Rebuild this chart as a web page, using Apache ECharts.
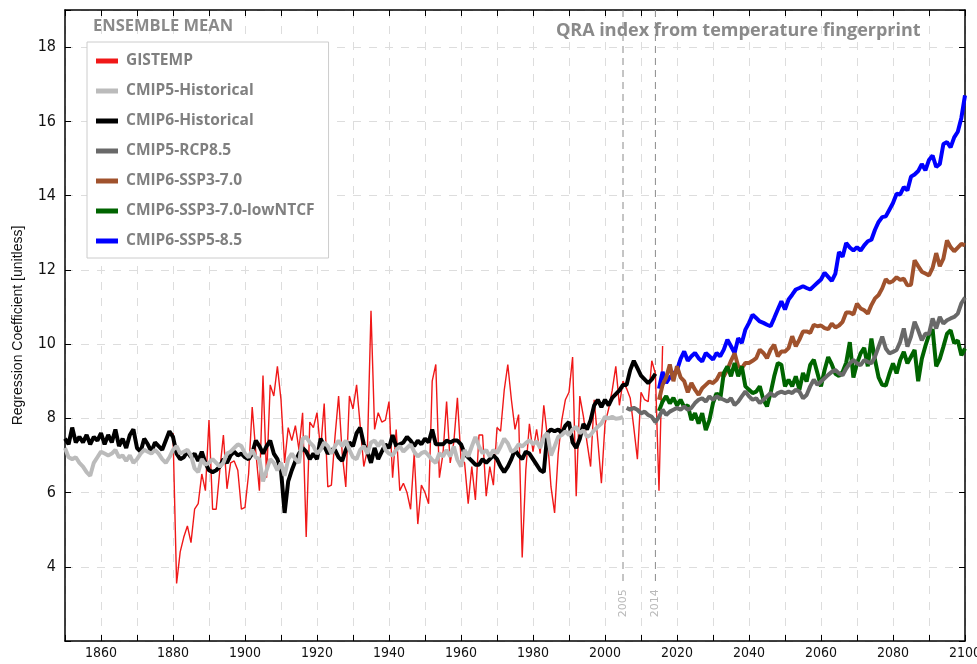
<!DOCTYPE html>
<html>
<head>
<meta charset="utf-8">
<script src="https://cdn.jsdelivr.net/npm/echarts@6/dist/echarts.min.js"></script>
<style>
html,body{margin:0;padding:0;background:#fff;overflow:hidden;}
#chart{width:977px;height:664px;}
</style>
</head>
<body>
<div id="chart"></div>
<script>
// ---- DATA ----
const gistempStart = 1880;
const gistemp = [7.6,3.55,4.4,4.8,5.1,4.65,5.55,5.7,6.5,6.05,
7.95,5.55,5.55,6.6,7.55,6.1,6.8,6.85,6.6,5.55,
5.6,6.5,8.3,7.1,6.05,9.15,6.4,8.9,8.6,9.4,
8.5,6.8,7.75,7.4,7.8,7.15,8.15,4.8,7.9,7.75,
8.15,7.15,8.4,6.15,6.2,7.5,8.6,7.05,6.15,8.6,
8.25,8.9,7.8,6.7,7.15,10.9,7.7,8.15,7.9,7.95,
8.45,6.4,7.7,6.05,6.25,6.0,5.55,7.05,5.15,6.2,
6.0,5.7,9.0,9.45,6.4,7.05,8.45,6.8,7.35,8.55,
6.9,6.8,5.7,6.7,5.8,7.55,7.55,5.9,6.7,6.2,
7.75,7.65,8.75,9.45,8.5,7.7,8.1,4.25,6.6,7.85,
7.1,7.7,7.05,8.35,7.5,6.15,5.45,7.05,7.95,8.5,
8.7,9.65,5.9,8.6,8.05,7.35,6.7,8.5,7.4,6.25,
7.85,8.25,8.75,9.4,8.35,9.0,8.8,8.55,7.75,6.9,
8.7,8.5,8.45,9.55,9.2,6.05,9.95];

const cmip5HistStart = 1850;
const cmip5Hist = [7.2,6.95,6.9,6.95,6.8,6.7,6.55,6.45,6.8,6.95,
7.1,7.05,7.0,7.05,7.15,6.95,7.0,6.85,7.0,6.8,
6.9,7.05,7.15,7.1,7.05,7.15,7.05,6.9,6.8,6.95,
7.15,7.25,7.05,7.1,7.15,7.0,6.65,6.55,6.9,6.75,
6.8,6.9,6.8,6.7,6.8,7.05,7.1,7.2,7.3,7.25,
7.05,6.95,7.15,6.95,6.9,6.3,6.6,6.9,6.8,6.6,
6.8,6.45,6.9,7.05,6.9,6.8,7.45,7.5,7.35,7.25,
7.05,7.15,7.35,7.25,7.05,7.25,7.4,7.25,7.4,7.15,
6.95,6.9,7.15,7.25,7.05,7.35,7.4,7.25,7.4,7.15,
7.05,7.0,7.15,7.25,7.1,7.2,7.3,7.1,6.97,7.06,
7.1,7.0,6.88,6.8,7.06,6.97,7.15,6.97,7.24,6.88,
6.7,7.15,6.97,7.24,7.5,7.24,7.06,7.15,6.97,7.15,
7.06,7.24,7.45,7.33,7.1,7.15,7.3,7.24,7.33,7.41,
7.3,7.38,7.2,7.5,7.6,7.0,7.24,7.5,7.55,7.65,
7.55,7.7,7.77,7.6,7.68,7.5,7.55,7.68,7.77,7.86,
8.04,8.0,8.04,7.99,8.0,8.04];

const cmip6HistStart = 1850;
const cmip6Hist = [7.45,7.3,7.75,7.35,7.5,7.35,7.55,7.3,7.5,7.4,
7.6,7.3,7.55,7.35,7.7,7.25,7.45,7.2,7.55,7.7,
7.2,7.1,7.45,7.3,7.1,7.35,7.25,7.15,7.4,7.65,
7.5,7.05,6.9,6.95,7.1,6.95,7.05,6.85,7.1,6.8,
6.6,6.55,6.6,6.7,6.9,6.8,7.0,7.1,7.0,7.05,
6.95,6.9,7.05,7.4,7.25,7.05,7.25,7.4,7.05,6.9,
6.6,5.45,6.3,6.6,6.85,7.05,7.2,7.1,6.9,7.05,
6.9,7.45,7.25,7.05,7.15,7.15,6.95,6.85,7.15,7.35,
7.25,7.6,7.75,7.3,7.1,6.8,7.2,6.9,7.1,7.3,
7.2,7.55,7.25,7.3,7.35,7.5,7.4,7.25,7.4,7.3,
7.45,7.35,7.7,7.3,7.3,7.3,7.4,7.35,7.4,7.4,
7.3,7.05,6.95,6.85,6.75,6.75,6.9,6.8,6.9,7.0,
6.9,6.7,6.55,6.7,6.9,7.15,7.0,6.9,7.1,7.05,
6.9,6.75,6.6,6.55,7.6,7.7,7.65,7.7,7.6,7.8,
7.9,7.35,7.2,7.45,7.85,7.7,7.95,8.35,8.5,8.3,
8.5,8.35,8.55,8.65,8.75,8.9,8.9,9.3,9.55,9.35,
9.15,9.05,8.95,9.05,9.2];

const rcp85Start = 2006;
const rcp85 = [8.28,8.23,8.28,8.23,8.13,8.18,8.09,8.04,7.9,8.04,
8.23,8.09,8.18,8.23,8.28,8.23,8.32,8.23,8.28,8.41,
8.5,8.54,8.45,8.59,8.5,8.59,8.54,8.5,8.45,8.54,
8.36,8.45,8.59,8.72,8.59,8.5,8.54,8.41,8.5,8.59,
8.68,8.59,8.68,8.72,8.68,8.72,8.68,8.77,8.72,8.54,
8.63,8.86,9.04,8.9,8.99,9.08,9.17,9.25,9.3,9.21,
9.16,9.34,9.48,9.57,9.48,9.43,9.57,9.52,9.48,9.66,
9.93,10.2,9.88,9.75,9.79,9.84,10.06,10.42,9.93,10.2,
10.6,10.37,10.1,10.28,10.28,10.69,10.42,10.73,10.55,10.64,
10.69,10.73,10.82,11.1,11.25];

const sspStart = 2015;
const ssp370 = [8.5,8.9,9.1,9.45,9.0,9.4,9.1,9.0,8.7,8.95,
8.77,8.63,8.81,8.9,8.99,8.95,9.04,9.22,9.13,9.31,
9.55,9.75,9.4,9.35,9.49,9.49,9.55,9.62,9.85,9.76,
9.62,9.85,9.98,9.67,9.8,9.8,9.89,10.21,9.94,10.12,
10.34,10.34,10.3,10.52,10.48,10.5,10.43,10.4,10.55,10.45,
10.5,10.6,10.85,10.85,10.8,11.09,10.96,10.91,10.82,11.05,
11.23,11.32,11.5,11.75,11.65,11.7,11.8,11.73,11.76,11.58,
11.6,12.26,12.1,11.95,11.9,11.85,12.05,12.45,12.1,12.3,
12.79,12.61,12.5,12.6,12.7,12.66];

const ssp370low = [8.2,8.45,8.6,8.4,8.55,8.35,8.5,8.3,8.35,7.95,
8.14,7.86,8.14,7.68,7.95,8.41,8.68,8.5,9.22,9.4,
9.13,9.49,9.13,9.4,8.86,8.77,8.68,8.72,8.86,8.5,
8.32,8.68,9.13,9.49,9.44,8.86,9.04,8.86,9.13,8.77,
9.22,8.99,9.44,9.58,9.22,8.86,9.3,9.65,9.45,9.2,
9.14,9.25,9.5,10.05,9.1,9.48,9.75,9.9,9.4,10.15,
9.57,9.1,8.9,8.88,9.2,9.48,9.21,9.57,9.79,9.48,
9.66,9.84,9.0,9.6,9.95,10.25,10.4,9.4,9.6,9.93,
10.28,10.37,10.02,10.1,9.7,9.88];

const ssp585 = [8.8,9.25,8.95,9.1,9.2,9.3,9.6,9.8,9.55,9.67,
9.76,9.62,9.53,9.76,9.67,9.58,9.76,9.67,9.85,10.12,
9.94,9.76,10.16,10.03,10.39,10.57,10.79,10.7,10.61,10.57,
10.52,10.48,10.7,10.93,11.15,10.93,11.2,11.33,11.47,11.51,
11.56,11.51,11.47,11.56,11.65,11.74,11.92,11.81,11.7,11.9,
12.48,12.35,12.72,12.6,12.52,12.61,12.52,12.66,12.77,12.81,
13.08,13.29,13.42,13.44,13.62,13.8,14.05,14.03,14.23,14.14,
14.51,14.57,14.66,14.85,14.68,14.96,15.08,14.77,14.85,15.39,
15.44,15.3,15.57,15.72,16.1,16.7];

const markerYears = [2005, 2014];
const xTickLabels = [1860,1880,1900,1920,1940,1960,1980,2000,2020,2040,2060,2080,2100];
const yTickLabels = [4,6,8,10,12,14,16,18];

const legendNames = ['GISTEMP','CMIP5-Historical','CMIP6-Historical','CMIP5-RCP8.5','CMIP6-SSP3-7.0','CMIP6-SSP3-7.0-lowNTCF','CMIP6-SSP5-8.5'];

// ---- BUILD ----
function pairs(start, arr){ return arr.map((v,i)=>[start+i, v]); }

const tickFont = "'Liberation Sans Narrow','DejaVu Sans Condensed','Liberation Sans',sans-serif";
const boldFont = "'Open Sans','DejaVu Sans',sans-serif";

function lineSeries(name, data, color, width){
  return {name, type:'line', data, showSymbol:false, symbol:'none', silent:true,
    lineStyle:{color, width}, itemStyle:{color}, emphasis:{disabled:true}, animation:false};
}

const series = [
  lineSeries('GISTEMP', pairs(gistempStart, gistemp), '#f01818', 1.4),
  lineSeries('CMIP6-Historical', pairs(cmip6HistStart, cmip6Hist), '#000000', 4),
  lineSeries('CMIP5-Historical', pairs(cmip5HistStart, cmip5Hist), '#bbbbbb', 4),
  lineSeries('CMIP6-SSP5-8.5', pairs(sspStart, ssp585), '#0000ff', 4),
  lineSeries('CMIP6-SSP3-7.0', pairs(sspStart, ssp370), '#a0522d', 4),
  lineSeries('CMIP6-SSP3-7.0-lowNTCF', pairs(sspStart, ssp370low), '#006400', 4),
  lineSeries('CMIP5-RCP8.5', pairs(rcp85Start, rcp85), '#696969', 4)
];

markerYears.forEach(yr=>{
  series.push({type:'line', data:[[yr,19],[yr,3.5]], showSymbol:false, symbol:'none', silent:true,
    lineStyle:{color:'#8a8a8a', width:1, type:[7,5]}, z:1, animation:false});
  series.push({type:'scatter', data:[[yr,3.02]], symbol:'circle', symbolSize:2,
    itemStyle:{color:'rgba(255,255,255,0)'}, silent:true, animation:false, z:5,
    label:{show:true, position:'inside', rotate:90, formatter:String(yr), color:'#a8a8a8', fontSize:11,
      fontFamily:"'DejaVu Sans',sans-serif"}});
});

const axisLineStyle = {color:'#000', width:1.5};

const option = {
  animation:false,
  backgroundColor:'#fff',
  title:[
    {text:'ENSEMBLE MEAN', left:93, top:18, padding:0,
      textStyle:{fontSize:16.5, fontWeight:'bold', color:'#8a8a8a', fontFamily:boldFont}},
    {text:'QRA index from temperature fingerprint', left:556, top:22, padding:0,
      textStyle:{fontSize:18, fontWeight:'bold', color:'#8a8a8a', fontFamily:boldFont}}
  ],
  legend:{
    data:legendNames, orient:'vertical', left:87, top:42,
    padding:[11,14,9,9], itemGap:14, itemWidth:22, itemHeight:5, icon:'rect',
    selectedMode:false, borderColor:'#cccccc', borderWidth:1, backgroundColor:'#fff',
    textStyle:{fontSize:15.5, fontWeight:'bold', color:'#808080', fontFamily:boldFont, lineHeight:16, padding:[0,0,0,3]}
  },
  grid:{left:65, right:12, top:10, bottom:23, containLabel:false, outerBoundsMode:'none'},
  xAxis:[
    {type:'value', min:1850, max:2100, interval:10,
      axisLine:{lineStyle:axisLineStyle}, axisTick:{inside:true, length:6, lineStyle:{color:'#000'}},
      axisLabel:{margin:5, fontSize:14, color:'#111', fontFamily:tickFont,
        formatter:v=> xTickLabels.includes(v) ? String(v) : ''},
      splitLine:{show:true, lineStyle:{type:[8,8], color:'#dddddd', width:1}}},
    {type:'value', position:'top', min:1850, max:2100, interval:10,
      axisLine:{lineStyle:axisLineStyle}, axisTick:{inside:true, length:6, lineStyle:{color:'#000'}},
      axisLabel:{show:false}, splitLine:{show:false}}
  ],
  yAxis:[
    {type:'value', min:2, max:19, interval:2,
      name:'Regression Coefficient [unitless]', nameLocation:'middle', nameGap:40,
      nameTextStyle:{fontSize:14, color:'#111', fontFamily:"'Liberation Sans',sans-serif"},
      axisLine:{lineStyle:axisLineStyle}, axisTick:{inside:true, length:6, lineStyle:{color:'#000'}},
      axisLabel:{margin:9, fontSize:16, color:'#111', fontFamily:tickFont,
        formatter:v=> yTickLabels.includes(v) ? String(v) : ''},
      splitLine:{show:true, lineStyle:{type:[8,8], color:'#dddddd', width:1}}},
    {type:'value', position:'right', min:2, max:19, interval:2,
      axisLine:{lineStyle:axisLineStyle}, axisTick:{inside:true, length:6, lineStyle:{color:'#000'}},
      axisLabel:{show:false}, splitLine:{show:false}}
  ],
  series
};

const chart = echarts.init(document.getElementById('chart'), null, {renderer:'canvas'});
chart.setOption(option);
</script>
</body>
</html>
